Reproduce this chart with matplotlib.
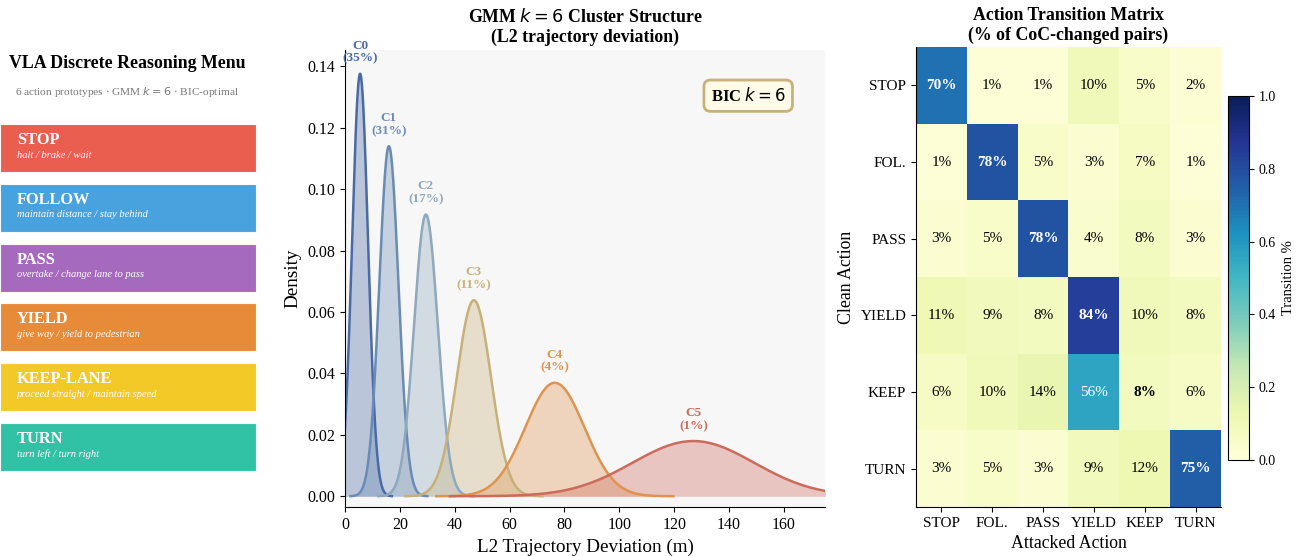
import numpy as np
import matplotlib
matplotlib.use('Agg')
import matplotlib.pyplot as plt
from matplotlib.patches import FancyBboxPatch

plt.rcParams['font.family'] = ['Liberation Serif', 'DejaVu Serif']

# --- data -------------------------------------------------------------------
actions = ['STOP', 'FOLLOW', 'PASS', 'YIELD', 'KEEP-LANE', 'TURN']
action_desc = ['halt / brake / wait', 'maintain distance / stay behind',
               'overtake / change lane to pass', 'give way / yield to pedestrian',
               'proceed straight / maintain speed', 'turn left / turn right']
action_colors = ['#e74c3c', '#3498db', '#9b59b6', '#e67e22', '#f1c40f', '#1abc9c']

clusters = ['C0', 'C1', 'C2', 'C3', 'C4', 'C5']
cl_weight = [35, 31, 17, 11, 4, 1]          # % of pairs
cl_mu = [5.5, 16.0, 29.5, 47.0, 76.5, 127.0]
cl_sigma = [2.9, 3.5, 4.35, 6.25, 10.8, 22.2]
cl_colors = ['#4a6aa5', '#6a8cb4', '#8fa8bd', '#c8b07a', '#de9450', '#cc6a5c']

short = ['STOP', 'FOL.', 'PASS', 'YIELD', 'KEEP', 'TURN']
trans = np.array([
    [70, 1, 1, 10, 5, 2],
    [1, 78, 5, 3, 7, 1],
    [3, 5, 78, 4, 8, 3],
    [11, 9, 8, 84, 10, 8],
    [6, 10, 14, 56, 8, 6],
    [3, 5, 3, 9, 12, 75],
]) / 100.

fig = plt.figure(figsize=(12.96, 5.56), dpi=100)

# --- (a) action menu ---------------------------------------------------------
ax0 = fig.add_axes([0, 0, 257 / 1296, 1])
ax0.set_xlim(0, 257); ax0.set_ylim(556, 0); ax0.axis('off')
ax0.text(127, 63, 'VLA Discrete Reasoning Menu', ha='center', va='center',
         fontsize=12.9, fontweight='bold')
ax0.text(127, 92, r'6 action prototypes $\cdot$ GMM $k=6$ $\cdot$ BIC-optimal',
         ha='center', va='center', fontsize=8.2, color='#777777')
for i, (name, desc, col) in enumerate(zip(actions, action_desc, action_colors)):
    y0 = 124 + i * 59.8
    ax0.add_patch(FancyBboxPatch((0, y0), 256, 48, boxstyle='square,pad=0',
                                 facecolor=col, alpha=0.9, edgecolor='white', lw=0.8))
    ax0.text(17, y0 + 16, name, color='white', fontsize=11.8, fontweight='bold', va='center')
    ax0.text(17, y0 + 31, desc, color='white', fontsize=7.6, style='italic', va='center')

# --- (b) GMM components ------------------------------------------------------
ax1 = fig.add_axes([345 / 1296, 49 / 556, 480 / 1296, 457 / 556])
ax1.set_facecolor('#f7f7f7')
for name, w, mu, sd, col in zip(clusters, cl_weight, cl_mu, cl_sigma, cl_colors):
    x = np.linspace(mu - 4 * sd, mu + 4 * sd, 300)
    y = np.exp(-0.5 * ((x - mu) / sd)**2) / (sd * np.sqrt(2 * np.pi))
    ax1.fill_between(x, y, color=col, alpha=0.35, lw=0)
    ax1.plot(x, y, color=col, lw=1.8)
    ax1.text(mu, y.max() + 0.003, '%s\n(%d%%)' % (name, w), ha='center', va='bottom',
             color=col, fontsize=9.5, fontweight='bold', linespacing=1.1)
ax1.set_xlim(0, 175); ax1.set_ylim(-0.0035, 0.1453)
ax1.set_xticks(np.arange(0, 161, 20))
ax1.spines[['top', 'right']].set_visible(False)
ax1.tick_params(labelsize=11.5)
ax1.set_xlabel('L2 Trajectory Deviation (m)', fontsize=13.8)
ax1.set_ylabel('Density', fontsize=13.8)
ax1.set_title('GMM $k=6$ Cluster Structure\n(L2 trajectory deviation)',
              fontsize=12.8, fontweight='bold', pad=6)
ax1.text(0.84, 0.90, 'BIC $k=6$', transform=ax1.transAxes, ha='center', va='center',
         fontsize=12, fontweight='bold',
         bbox=dict(boxstyle='round,pad=0.4', fc='#fffbe8', ec='#c9b27a', lw=2))

# --- (c) transition matrix ---------------------------------------------------
ax2 = fig.add_axes([916 / 1296, 49 / 556, 305 / 1296, 460 / 556])
im = ax2.imshow(trans, cmap='YlGnBu', vmin=0, vmax=1, aspect='auto')
for i in range(6):
    for j in range(6):
        v = trans[i, j]
        ax2.text(j, i, '%d%%' % round(v * 100), ha='center', va='center', fontsize=11,
                 color='white' if v > 0.5 else 'black',
                 fontweight='bold' if i == j else 'normal')
ax2.set_xticks(range(6)); ax2.set_xticklabels(short, fontsize=11)
ax2.set_yticks(range(6)); ax2.set_yticklabels(short, fontsize=11)
ax2.spines[['top', 'right']].set_visible(False)
ax2.set_xlabel('Attacked Action', fontsize=12.8)
ax2.set_ylabel('Clean Action', fontsize=12.8)
ax2.set_title('Action Transition Matrix\n(% of CoC-changed pairs)',
              fontsize=12.8, fontweight='bold', pad=5)

cax = fig.add_axes([1228 / 1296, 96 / 556, 21 / 1296, 364 / 556])
cb = fig.colorbar(im, cax=cax)
cb.set_label('Transition %', fontsize=10.5)
cb.ax.tick_params(labelsize=10)

fig.savefig('out.png', dpi=100)
